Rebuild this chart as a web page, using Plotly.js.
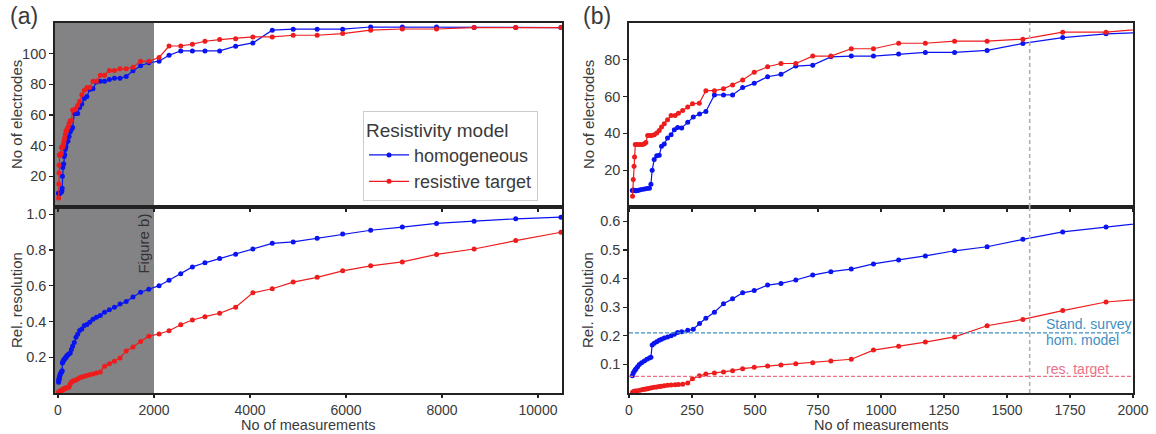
<!DOCTYPE html>
<html>
<head>
<meta charset="utf-8">
<script src="https://cdn.plot.ly/plotly-3.0.1.min.js"></script>
<style>html,body{margin:0;padding:0;background:#fff;}#chart{width:1156px;height:434px;}</style>
</head>
<body>
<div id="chart"></div>
<script>
// ---------- DATA ----------
// homogeneous model
const homX = [13, 17, 21, 25, 28, 34, 41, 50, 61, 71, 81, 87, 92, 100, 110, 120, 129, 140, 153, 167, 180, 193, 209, 233, 255, 280, 305, 339, 375, 411, 451, 497, 550, 603, 662, 729, 801, 882, 970, 1070, 1176, 1292, 1421, 1563, 1721, 1893, 2106, 2314, 2557, 2800, 3062, 3368, 3701, 4060, 4464, 4900, 5399, 5931, 6514, 7173, 7886, 8669, 9536, 10478];
const homElectrodes = [9.0, 9.2, 9.0, 8.8, 8.8, 9.0, 9.2, 9.5, 9.8, 10.0, 10.2, 12.3, 20.0, 25.8, 27.9, 28.1, 33.0, 34.3, 37.5, 39.3, 42.0, 43.2, 43.0, 46.0, 48.9, 50.6, 51.9, 60.9, 60.9, 60.9, 64.9, 67.2, 70.8, 72.1, 76.6, 77.1, 81.6, 82.0, 82.0, 83.1, 84.0, 84.0, 85.1, 88.9, 92.1, 94.1, 95.1, 99.0, 101.8, 101.8, 101.8, 101.8, 104.9, 107.0, 115.3, 116.0, 116.0, 116.0, 117.4, 117.4, 117.4, 117.0, 117.0, 117.0];
const homResolution = [0.060, 0.070, 0.076, 0.081, 0.085, 0.092, 0.100, 0.106, 0.112, 0.118, 0.122, 0.125, 0.168, 0.174, 0.179, 0.184, 0.188, 0.192, 0.196, 0.200, 0.205, 0.211, 0.214, 0.219, 0.223, 0.243, 0.261, 0.282, 0.312, 0.329, 0.350, 0.358, 0.377, 0.383, 0.395, 0.412, 0.424, 0.433, 0.451, 0.465, 0.479, 0.497, 0.511, 0.537, 0.563, 0.580, 0.600, 0.630, 0.667, 0.705, 0.728, 0.752, 0.776, 0.805, 0.837, 0.845, 0.865, 0.889, 0.910, 0.928, 0.948, 0.961, 0.974, 0.983];
// resistive target model
const resX = [14, 17, 20, 22, 25, 34, 44, 54, 61, 67, 74, 81, 90, 100, 110, 120, 129, 140, 153, 167, 183, 196, 213, 233, 252, 279, 305, 339, 375, 411, 451, 497, 550, 603, 662, 729, 801, 882, 970, 1070, 1176, 1292, 1421, 1563, 1721, 1893, 2106, 2314, 2557, 2800, 3062, 3368, 3701, 4060, 4464, 4900, 5399, 5931, 6514, 7173, 7886, 8669, 9536, 10478];
const resElectrodes = [5.9, 15.0, 22.2, 27.2, 33.9, 33.9, 33.9, 33.9, 34.4, 35.1, 38.8, 38.9, 38.8, 39.3, 40.2, 41.6, 43.5, 45.2, 47.4, 49.7, 49.7, 51.0, 52.4, 54.3, 56.1, 56.4, 63.2, 63.2, 64.2, 66.3, 69.0, 73.2, 76.2, 78.0, 78.0, 82.0, 82.0, 86.0, 86.0, 89.0, 89.0, 90.1, 90.1, 91.2, 95.0, 95.0, 97.5, 105.0, 105.0, 106.2, 108.1, 109.2, 109.8, 110.9, 110.9, 112.0, 112.0, 113.1, 115.3, 116.1, 116.1, 117.0, 117.0, 117.0];
const resResolution = [0.003, 0.004, 0.005, 0.006, 0.007, 0.008, 0.010, 0.012, 0.013, 0.014, 0.015, 0.017, 0.018, 0.020, 0.021, 0.023, 0.024, 0.025, 0.027, 0.028, 0.029, 0.030, 0.031, 0.035, 0.050, 0.060, 0.066, 0.070, 0.073, 0.078, 0.085, 0.090, 0.094, 0.098, 0.102, 0.106, 0.112, 0.118, 0.150, 0.163, 0.178, 0.196, 0.235, 0.257, 0.288, 0.318, 0.330, 0.348, 0.382, 0.408, 0.427, 0.446, 0.480, 0.560, 0.583, 0.620, 0.647, 0.683, 0.711, 0.733, 0.775, 0.805, 0.852, 0.899];

const seriesNames = ["homogeneous", "resistive target"];
const legendTitle = "Resistivity model";
const leftXTicks = [0, 2000, 4000, 6000, 8000, 10000];
const leftXTickText = ["0", "2000", "4000", "6000", "8000", "10000"];
const rightXTicks = [0, 250, 500, 750, 1000, 1250, 1500, 1750, 2000];
const leftElecTicks = [20, 40, 60, 80, 100];
const rightElecTicks = [20, 40, 60, 80];
const leftResTicks = [0.2, 0.4, 0.6, 0.8, 1.0];
const leftResTickText = ["0.2", "0.4", "0.6", "0.8", "1.0"];
const rightResTicks = [0.1, 0.2, 0.3, 0.4, 0.5, 0.6];
const electrodesTitle = "No of electrodes";
const resolutionTitle = "Rel. resolution";
const measurementsTitle = "No of measurements";
const figureBLimit = 2000;      // shaded region end (measurements)
const standardSurvey = 1590;    // vertical dashed line (measurements)
const standHomLevel = 0.21;     // stand. survey resolution, hom. model
const standResLevel = 0.058;    // stand. survey resolution, res. target

// ---------- STYLE ----------
const BLUE = "#0a14f0", RED = "#ee1c1c";
const FONT = "Liberation Sans, Arial, sans-serif";
const TXT = "#3a3a3a";
const AX = "#222";
const W = 1156, H = 434;

function tr(x, y, xa, ya, color, name, show) {
  return {
    x: x, y: y, xaxis: xa, yaxis: ya, type: "scatter", mode: "lines+markers",
    name: name, showlegend: show, legendgroup: name,
    line: {color: color, width: 1.2},
    marker: {color: color, size: 5}
  };
}
const data = [
  tr(homX, homElectrodes, "x", "y", BLUE, seriesNames[0], true),
  tr(resX, resElectrodes, "x", "y", RED, seriesNames[1], true),
  tr(homX, homResolution, "x2", "y2", BLUE, seriesNames[0], false),
  tr(resX, resResolution, "x2", "y2", RED, seriesNames[1], false),
  tr(homX, homElectrodes, "x3", "y3", BLUE, seriesNames[0], false),
  tr(resX, resElectrodes, "x3", "y3", RED, seriesNames[1], false),
  tr(homX, homResolution, "x4", "y4", BLUE, seriesNames[0], false),
  tr(resX, resResolution, "x4", "y4", RED, seriesNames[1], false)
];

const leftDom = [55 / W, 562 / W], rightDom = [629 / W, 1133 / W];
const topDom = [(H - 207) / H, (H - 23) / H], botDom = [(H - 393) / H, (H - 207) / H];

function xax(dom, anchor, range, ticks, ticktext, labels) {
  const a = {
    domain: dom, anchor: anchor, range: range, tickvals: ticks,
    showticklabels: labels, ticks: "outside", ticklen: 3, tickwidth: 1.2, tickcolor: AX,
    showline: true, linecolor: AX, linewidth: 1.8, mirror: true,
    showgrid: false, zeroline: false,
    tickfont: {family: FONT, size: 14, color: TXT}
  };
  if (ticktext) a.ticktext = ticktext;
  return a;
}
function yax(dom, anchor, range, ticks, ticktext) {
  const a = {
    domain: dom, anchor: anchor, range: range, tickvals: ticks,
    ticks: "outside", ticklen: 4, tickwidth: 1.2, tickcolor: AX,
    showline: true, linecolor: AX, linewidth: 1.8, mirror: true,
    showgrid: false, zeroline: false,
    tickfont: {family: FONT, size: 14.5, color: TXT}
  };
  if (ticktext) a.ticktext = ticktext;
  return a;
}
function ytitle(text, xpx, dom) {
  return {text: text, xref: "paper", yref: "paper", x: xpx / W, y: (dom[0] + dom[1]) / 2,
    xanchor: "center", yanchor: "middle", textangle: -90, showarrow: false,
    font: {family: FONT, size: 15, color: TXT}};
}
function xtitle(text, dom) {
  return {text: text, xref: "paper", yref: "paper", x: (dom[0] + dom[1]) / 2, y: 0,
    xanchor: "center", yanchor: "bottom", showarrow: false, borderpad: 0,
    font: {family: FONT, size: 14.5, color: TXT}};
}

const layout = {
  width: W, height: H,
  margin: {l: 0, r: 0, t: 0, b: 0},
  paper_bgcolor: "#fff", plot_bgcolor: "#fff",
  font: {family: FONT, color: TXT},
  showlegend: true,
  legend: {
    x: 363 / W, y: (H - 111) / H, xanchor: "left", yanchor: "top",
    bgcolor: "#fff", bordercolor: "#cccccc", borderwidth: 1,
    font: {family: FONT, size: 18, color: TXT},
    title: {text: legendTitle, font: {family: FONT, size: 19, color: TXT}},
    tracegroupgap: 0, itemwidth: 40
  },
  xaxis: xax(leftDom, "y", [-62, 10500], leftXTicks, leftXTickText, false),
  yaxis: yax(topDom, "x", [0, 120], leftElecTicks),
  xaxis2: xax(leftDom, "y2", [-62, 10500], leftXTicks, leftXTickText, true),
  yaxis2: yax(botDom, "x2", [0, 1.04], leftResTicks, leftResTickText),
  xaxis3: xax(rightDom, "y3", [0, 2000], rightXTicks, null, false),
  yaxis3: yax(topDom, "x3", [0, 100], rightElecTicks),
  xaxis4: xax(rightDom, "y4", [0, 2000], rightXTicks, null, true),
  yaxis4: yax(botDom, "x4", [0, 0.65], rightResTicks),
  shapes: [
    {type: "rect", xref: "x", yref: "y domain", x0: -62, x1: figureBLimit, y0: 0, y1: 1,
     fillcolor: "#838386", line: {width: 0}, layer: "below"},
    {type: "rect", xref: "x2", yref: "y2 domain", x0: -62, x1: figureBLimit, y0: 0, y1: 1,
     fillcolor: "#838386", line: {width: 0}, layer: "below"},
    {type: "line", xref: "x3", yref: "y3 domain", x0: standardSurvey, x1: standardSurvey, y0: 0, y1: 1,
     line: {color: "#b0b0b0", width: 1.6, dash: "4px,3px"}},
    {type: "line", xref: "x4", yref: "y4 domain", x0: standardSurvey, x1: standardSurvey, y0: 0, y1: 1,
     line: {color: "#b0b0b0", width: 1.6, dash: "4px,3px"}},
    {type: "line", xref: "x4 domain", yref: "y4", x0: 0, x1: 1, y0: standHomLevel, y1: standHomLevel,
     line: {color: "#3d8fc4", width: 1.2, dash: "4px,2px"}},
    {type: "line", xref: "x4 domain", yref: "y4", x0: 0, x1: 1, y0: standResLevel, y1: standResLevel,
     line: {color: "#ea6f86", width: 1.2, dash: "4px,2px"}}
  ],
  annotations: [
    ytitle(electrodesTitle, 16, topDom),
    ytitle(resolutionTitle, 16, botDom),
    ytitle(electrodesTitle, 588, topDom),
    ytitle(resolutionTitle, 587, botDom),
    xtitle(measurementsTitle, leftDom),
    xtitle(measurementsTitle, rightDom),
    {text: "(a)", xref: "paper", yref: "paper", x: 8 / W, y: (H - 16) / H, xanchor: "left", yanchor: "middle",
     showarrow: false, font: {family: FONT, size: 23, color: TXT}},
    {text: "(b)", xref: "paper", yref: "paper", x: 581 / W, y: (H - 16) / H, xanchor: "left", yanchor: "middle",
     showarrow: false, font: {family: FONT, size: 23, color: TXT}},
    {text: "Figure b)", xref: "x2", yref: "y2", x: 1790, y: 0.835, textangle: -90,
     showarrow: false, font: {family: FONT, size: 15, color: "#333"}},
    {text: "Stand. survey", xref: "x4", yref: "y4", x: 1648, y: 0.241, xanchor: "left",
     showarrow: false, font: {family: FONT, size: 14, color: "#3d8fc4"}},
    {text: "hom. model", xref: "x4", yref: "y4", x: 1648, y: 0.186, xanchor: "left",
     showarrow: false, font: {family: FONT, size: 14, color: "#3d8fc4"}},
    {text: "res. target", xref: "x4", yref: "y4", x: 1648, y: 0.085, xanchor: "left",
     showarrow: false, font: {family: FONT, size: 14, color: "#ea6f86"}}
  ]
};

Plotly.newPlot("chart", data, layout, {displayModeBar: false, staticPlot: true});
</script>
</body>
</html>
